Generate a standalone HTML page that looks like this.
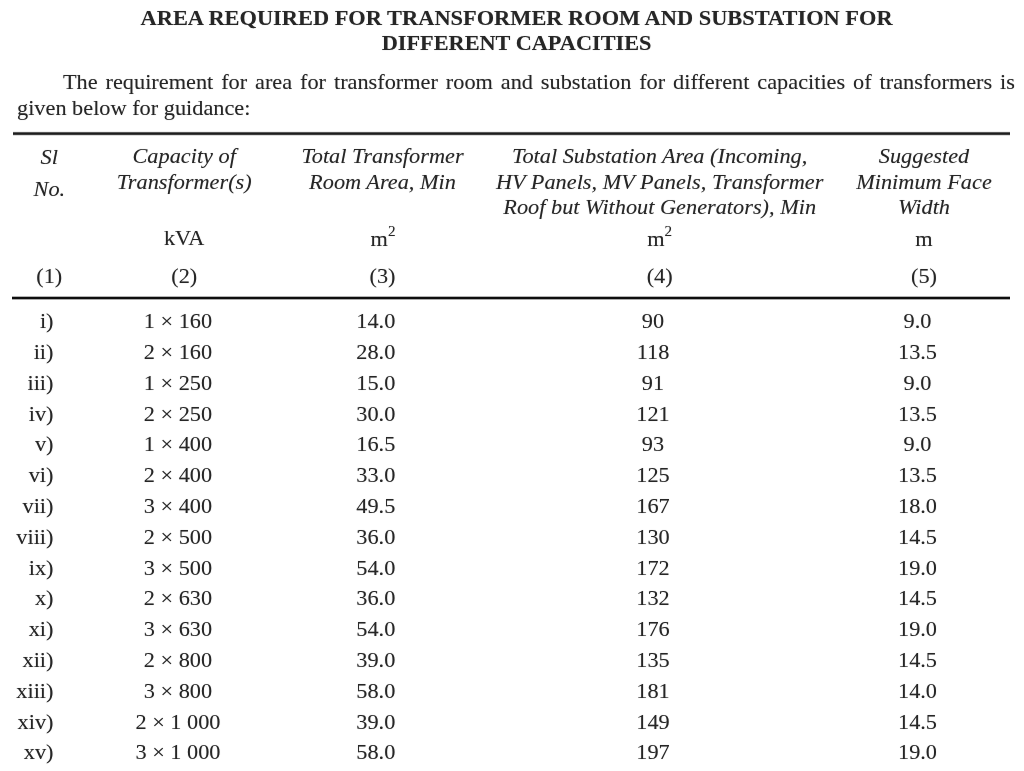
<!DOCTYPE html>
<html><head><meta charset="utf-8"><style>
html,body{margin:0;padding:0;background:#fff;width:1024px;height:771px;overflow:hidden;position:relative}
.t{position:absolute;font-family:"Liberation Serif",serif;color:#262626;white-space:nowrap;text-shadow:0 0 1px rgba(0,0,0,0.3)}
body{filter:grayscale(1)}
.r{position:absolute}
sup{font-size:0.68em;vertical-align:0;position:relative;top:-0.68em;margin-left:0}
</style></head><body>
<div class="t" style="left:16.60px;top:3.54px;width:1000px;text-align:center;font-size:22.4px;line-height:27px;transform:scaleY(0.98);transform-origin:50% 21.06px;font-weight:bold">AREA REQUIRED FOR TRANSFORMER ROOM AND SUBSTATION FOR</div>
<div class="t" style="left:16.60px;top:28.87px;width:1000px;text-align:center;font-size:22.3px;line-height:27px;transform:scaleY(0.98);transform-origin:50% 21.03px;font-weight:bold">DIFFERENT CAPACITIES</div>
<div class="t" style="left:63px;top:68.67px;width:952px;font-size:22.3px;line-height:26px;transform:scaleY(0.96);transform-origin:50% 20.53px;text-align:justify;text-align-last:justify;word-spacing:0">The requirement for area for transformer room and substation for different capacities of transformers is</div>
<div class="t" style="left:17.00px;top:93.97px;width:1100px;text-align:left;font-size:22.3px;line-height:27px;transform:scaleY(0.96);transform-origin:50% 21.03px;">given below for guidance:</div>
<div class="r" style="left:13px;top:131px;width:997px;height:5px;background:linear-gradient(to bottom,#f0f0f0 0,#f0f0f0 1px,#5a5a5a 1px,#5a5a5a 2px,#1e1e1e 2px,#1e1e1e 3px,#3c3c3c 3px,#3c3c3c 4px,#dcdcdc 4px)"></div>
<div class="r" style="left:12px;top:296px;width:998px;height:4px;background:linear-gradient(to bottom,#b4b4b4 0,#b4b4b4 1px,#0e0e0e 1px,#0e0e0e 3px,#aaaaaa 3px)"></div>
<div class="t" style="left:-300.80px;top:142.97px;width:700px;text-align:center;font-size:22.3px;line-height:27px;transform:scaleY(0.96);transform-origin:50% 21.03px;font-style:italic">Sl</div>
<div class="t" style="left:-300.60px;top:174.77px;width:700px;text-align:center;font-size:22.3px;line-height:27px;transform:scaleY(0.96);transform-origin:50% 21.03px;font-style:italic">No.</div>
<div class="t" style="left:-165.80px;top:142.37px;width:700px;text-align:center;font-size:22.3px;line-height:27px;transform:scaleY(0.96);transform-origin:50% 21.03px;font-style:italic">Capacity of</div>
<div class="t" style="left:-165.80px;top:168.07px;width:700px;text-align:center;font-size:22.3px;line-height:27px;transform:scaleY(0.96);transform-origin:50% 21.03px;font-style:italic">Transformer(s)</div>
<div class="t" style="left:-165.80px;top:224.37px;width:700px;text-align:center;font-size:22.3px;line-height:27px;transform:scaleY(0.96);transform-origin:50% 21.03px;">kVA</div>
<div class="t" style="left:-300.80px;top:262.27px;width:700px;text-align:center;font-size:22.3px;line-height:27px;transform:scaleY(0.96);transform-origin:50% 21.03px;">(1)</div>
<div class="t" style="left:-165.80px;top:262.27px;width:700px;text-align:center;font-size:22.3px;line-height:27px;transform:scaleY(0.96);transform-origin:50% 21.03px;">(2)</div>
<div class="t" style="left:32.50px;top:142.27px;width:700px;text-align:center;font-size:22.3px;line-height:27px;transform:scaleY(0.96);transform-origin:50% 21.03px;font-style:italic">Total Transformer</div>
<div class="t" style="left:32.50px;top:167.57px;width:700px;text-align:center;font-size:22.3px;line-height:27px;transform:scaleY(0.96);transform-origin:50% 21.03px;font-style:italic">Room Area, Min</div>
<div class="t" style="left:33.00px;top:224.67px;width:700px;text-align:center;font-size:22.3px;line-height:27px;transform:scaleY(0.96);transform-origin:50% 21.03px;">m<sup>2</sup></div>
<div class="t" style="left:32.50px;top:262.27px;width:700px;text-align:center;font-size:22.3px;line-height:27px;transform:scaleY(0.96);transform-origin:50% 21.03px;">(3)</div>
<div class="t" style="left:309.70px;top:142.07px;width:700px;text-align:center;font-size:22.3px;line-height:27px;transform:scaleY(0.96);transform-origin:50% 21.03px;font-style:italic">Total Substation Area (Incoming,</div>
<div class="t" style="left:309.70px;top:168.17px;width:700px;text-align:center;font-size:22.3px;line-height:27px;transform:scaleY(0.96);transform-origin:50% 21.03px;font-style:italic">HV Panels, MV Panels, Transformer</div>
<div class="t" style="left:309.70px;top:192.77px;width:700px;text-align:center;font-size:22.3px;line-height:27px;transform:scaleY(0.96);transform-origin:50% 21.03px;font-style:italic">Roof but Without Generators), Min</div>
<div class="t" style="left:309.70px;top:224.87px;width:700px;text-align:center;font-size:22.3px;line-height:27px;transform:scaleY(0.96);transform-origin:50% 21.03px;">m<sup>2</sup></div>
<div class="t" style="left:309.70px;top:262.27px;width:700px;text-align:center;font-size:22.3px;line-height:27px;transform:scaleY(0.96);transform-origin:50% 21.03px;">(4)</div>
<div class="t" style="left:574.00px;top:142.27px;width:700px;text-align:center;font-size:22.3px;line-height:27px;transform:scaleY(0.96);transform-origin:50% 21.03px;font-style:italic">Suggested</div>
<div class="t" style="left:574.00px;top:167.77px;width:700px;text-align:center;font-size:22.3px;line-height:27px;transform:scaleY(0.96);transform-origin:50% 21.03px;font-style:italic">Minimum Face</div>
<div class="t" style="left:574.00px;top:192.77px;width:700px;text-align:center;font-size:22.3px;line-height:27px;transform:scaleY(0.96);transform-origin:50% 21.03px;font-style:italic">Width</div>
<div class="t" style="left:574.00px;top:225.17px;width:700px;text-align:center;font-size:22.3px;line-height:27px;transform:scaleY(0.96);transform-origin:50% 21.03px;">m</div>
<div class="t" style="left:574.00px;top:262.27px;width:700px;text-align:center;font-size:22.3px;line-height:27px;transform:scaleY(0.96);transform-origin:50% 21.03px;">(5)</div>
<div class="t" style="left:-146.50px;top:307.17px;width:200px;text-align:right;font-size:22.3px;line-height:27px;transform:scaleY(0.96);transform-origin:50% 21.03px;">i)</div>
<div class="t" style="left:-172.00px;top:307.17px;width:700px;text-align:center;font-size:22.3px;line-height:27px;transform:scaleY(0.96);transform-origin:50% 21.03px;">1 × 160</div>
<div class="t" style="left:25.80px;top:307.17px;width:700px;text-align:center;font-size:22.3px;line-height:27px;transform:scaleY(0.96);transform-origin:50% 21.03px;">14.0</div>
<div class="t" style="left:303.00px;top:307.17px;width:700px;text-align:center;font-size:22.3px;line-height:27px;transform:scaleY(0.96);transform-origin:50% 21.03px;">90</div>
<div class="t" style="left:567.50px;top:307.17px;width:700px;text-align:center;font-size:22.3px;line-height:27px;transform:scaleY(0.96);transform-origin:50% 21.03px;">9.0</div>
<div class="t" style="left:-146.50px;top:337.98px;width:200px;text-align:right;font-size:22.3px;line-height:27px;transform:scaleY(0.96);transform-origin:50% 21.03px;">ii)</div>
<div class="t" style="left:-172.00px;top:337.98px;width:700px;text-align:center;font-size:22.3px;line-height:27px;transform:scaleY(0.96);transform-origin:50% 21.03px;">2 × 160</div>
<div class="t" style="left:25.80px;top:337.98px;width:700px;text-align:center;font-size:22.3px;line-height:27px;transform:scaleY(0.96);transform-origin:50% 21.03px;">28.0</div>
<div class="t" style="left:303.00px;top:337.98px;width:700px;text-align:center;font-size:22.3px;line-height:27px;transform:scaleY(0.96);transform-origin:50% 21.03px;">118</div>
<div class="t" style="left:567.50px;top:337.98px;width:700px;text-align:center;font-size:22.3px;line-height:27px;transform:scaleY(0.96);transform-origin:50% 21.03px;">13.5</div>
<div class="t" style="left:-146.50px;top:368.79px;width:200px;text-align:right;font-size:22.3px;line-height:27px;transform:scaleY(0.96);transform-origin:50% 21.03px;">iii)</div>
<div class="t" style="left:-172.00px;top:368.79px;width:700px;text-align:center;font-size:22.3px;line-height:27px;transform:scaleY(0.96);transform-origin:50% 21.03px;">1 × 250</div>
<div class="t" style="left:25.80px;top:368.79px;width:700px;text-align:center;font-size:22.3px;line-height:27px;transform:scaleY(0.96);transform-origin:50% 21.03px;">15.0</div>
<div class="t" style="left:303.00px;top:368.79px;width:700px;text-align:center;font-size:22.3px;line-height:27px;transform:scaleY(0.96);transform-origin:50% 21.03px;">91</div>
<div class="t" style="left:567.50px;top:368.79px;width:700px;text-align:center;font-size:22.3px;line-height:27px;transform:scaleY(0.96);transform-origin:50% 21.03px;">9.0</div>
<div class="t" style="left:-146.50px;top:399.60px;width:200px;text-align:right;font-size:22.3px;line-height:27px;transform:scaleY(0.96);transform-origin:50% 21.03px;">iv)</div>
<div class="t" style="left:-172.00px;top:399.60px;width:700px;text-align:center;font-size:22.3px;line-height:27px;transform:scaleY(0.96);transform-origin:50% 21.03px;">2 × 250</div>
<div class="t" style="left:25.80px;top:399.60px;width:700px;text-align:center;font-size:22.3px;line-height:27px;transform:scaleY(0.96);transform-origin:50% 21.03px;">30.0</div>
<div class="t" style="left:303.00px;top:399.60px;width:700px;text-align:center;font-size:22.3px;line-height:27px;transform:scaleY(0.96);transform-origin:50% 21.03px;">121</div>
<div class="t" style="left:567.50px;top:399.60px;width:700px;text-align:center;font-size:22.3px;line-height:27px;transform:scaleY(0.96);transform-origin:50% 21.03px;">13.5</div>
<div class="t" style="left:-146.50px;top:430.40px;width:200px;text-align:right;font-size:22.3px;line-height:27px;transform:scaleY(0.96);transform-origin:50% 21.03px;">v)</div>
<div class="t" style="left:-172.00px;top:430.40px;width:700px;text-align:center;font-size:22.3px;line-height:27px;transform:scaleY(0.96);transform-origin:50% 21.03px;">1 × 400</div>
<div class="t" style="left:25.80px;top:430.40px;width:700px;text-align:center;font-size:22.3px;line-height:27px;transform:scaleY(0.96);transform-origin:50% 21.03px;">16.5</div>
<div class="t" style="left:303.00px;top:430.40px;width:700px;text-align:center;font-size:22.3px;line-height:27px;transform:scaleY(0.96);transform-origin:50% 21.03px;">93</div>
<div class="t" style="left:567.50px;top:430.40px;width:700px;text-align:center;font-size:22.3px;line-height:27px;transform:scaleY(0.96);transform-origin:50% 21.03px;">9.0</div>
<div class="t" style="left:-146.50px;top:461.21px;width:200px;text-align:right;font-size:22.3px;line-height:27px;transform:scaleY(0.96);transform-origin:50% 21.03px;">vi)</div>
<div class="t" style="left:-172.00px;top:461.21px;width:700px;text-align:center;font-size:22.3px;line-height:27px;transform:scaleY(0.96);transform-origin:50% 21.03px;">2 × 400</div>
<div class="t" style="left:25.80px;top:461.21px;width:700px;text-align:center;font-size:22.3px;line-height:27px;transform:scaleY(0.96);transform-origin:50% 21.03px;">33.0</div>
<div class="t" style="left:303.00px;top:461.21px;width:700px;text-align:center;font-size:22.3px;line-height:27px;transform:scaleY(0.96);transform-origin:50% 21.03px;">125</div>
<div class="t" style="left:567.50px;top:461.21px;width:700px;text-align:center;font-size:22.3px;line-height:27px;transform:scaleY(0.96);transform-origin:50% 21.03px;">13.5</div>
<div class="t" style="left:-146.50px;top:492.02px;width:200px;text-align:right;font-size:22.3px;line-height:27px;transform:scaleY(0.96);transform-origin:50% 21.03px;">vii)</div>
<div class="t" style="left:-172.00px;top:492.02px;width:700px;text-align:center;font-size:22.3px;line-height:27px;transform:scaleY(0.96);transform-origin:50% 21.03px;">3 × 400</div>
<div class="t" style="left:25.80px;top:492.02px;width:700px;text-align:center;font-size:22.3px;line-height:27px;transform:scaleY(0.96);transform-origin:50% 21.03px;">49.5</div>
<div class="t" style="left:303.00px;top:492.02px;width:700px;text-align:center;font-size:22.3px;line-height:27px;transform:scaleY(0.96);transform-origin:50% 21.03px;">167</div>
<div class="t" style="left:567.50px;top:492.02px;width:700px;text-align:center;font-size:22.3px;line-height:27px;transform:scaleY(0.96);transform-origin:50% 21.03px;">18.0</div>
<div class="t" style="left:-146.50px;top:522.82px;width:200px;text-align:right;font-size:22.3px;line-height:27px;transform:scaleY(0.96);transform-origin:50% 21.03px;">viii)</div>
<div class="t" style="left:-172.00px;top:522.82px;width:700px;text-align:center;font-size:22.3px;line-height:27px;transform:scaleY(0.96);transform-origin:50% 21.03px;">2 × 500</div>
<div class="t" style="left:25.80px;top:522.82px;width:700px;text-align:center;font-size:22.3px;line-height:27px;transform:scaleY(0.96);transform-origin:50% 21.03px;">36.0</div>
<div class="t" style="left:303.00px;top:522.82px;width:700px;text-align:center;font-size:22.3px;line-height:27px;transform:scaleY(0.96);transform-origin:50% 21.03px;">130</div>
<div class="t" style="left:567.50px;top:522.82px;width:700px;text-align:center;font-size:22.3px;line-height:27px;transform:scaleY(0.96);transform-origin:50% 21.03px;">14.5</div>
<div class="t" style="left:-146.50px;top:553.63px;width:200px;text-align:right;font-size:22.3px;line-height:27px;transform:scaleY(0.96);transform-origin:50% 21.03px;">ix)</div>
<div class="t" style="left:-172.00px;top:553.63px;width:700px;text-align:center;font-size:22.3px;line-height:27px;transform:scaleY(0.96);transform-origin:50% 21.03px;">3 × 500</div>
<div class="t" style="left:25.80px;top:553.63px;width:700px;text-align:center;font-size:22.3px;line-height:27px;transform:scaleY(0.96);transform-origin:50% 21.03px;">54.0</div>
<div class="t" style="left:303.00px;top:553.63px;width:700px;text-align:center;font-size:22.3px;line-height:27px;transform:scaleY(0.96);transform-origin:50% 21.03px;">172</div>
<div class="t" style="left:567.50px;top:553.63px;width:700px;text-align:center;font-size:22.3px;line-height:27px;transform:scaleY(0.96);transform-origin:50% 21.03px;">19.0</div>
<div class="t" style="left:-146.50px;top:584.44px;width:200px;text-align:right;font-size:22.3px;line-height:27px;transform:scaleY(0.96);transform-origin:50% 21.03px;">x)</div>
<div class="t" style="left:-172.00px;top:584.44px;width:700px;text-align:center;font-size:22.3px;line-height:27px;transform:scaleY(0.96);transform-origin:50% 21.03px;">2 × 630</div>
<div class="t" style="left:25.80px;top:584.44px;width:700px;text-align:center;font-size:22.3px;line-height:27px;transform:scaleY(0.96);transform-origin:50% 21.03px;">36.0</div>
<div class="t" style="left:303.00px;top:584.44px;width:700px;text-align:center;font-size:22.3px;line-height:27px;transform:scaleY(0.96);transform-origin:50% 21.03px;">132</div>
<div class="t" style="left:567.50px;top:584.44px;width:700px;text-align:center;font-size:22.3px;line-height:27px;transform:scaleY(0.96);transform-origin:50% 21.03px;">14.5</div>
<div class="t" style="left:-146.50px;top:615.25px;width:200px;text-align:right;font-size:22.3px;line-height:27px;transform:scaleY(0.96);transform-origin:50% 21.03px;">xi)</div>
<div class="t" style="left:-172.00px;top:615.25px;width:700px;text-align:center;font-size:22.3px;line-height:27px;transform:scaleY(0.96);transform-origin:50% 21.03px;">3 × 630</div>
<div class="t" style="left:25.80px;top:615.25px;width:700px;text-align:center;font-size:22.3px;line-height:27px;transform:scaleY(0.96);transform-origin:50% 21.03px;">54.0</div>
<div class="t" style="left:303.00px;top:615.25px;width:700px;text-align:center;font-size:22.3px;line-height:27px;transform:scaleY(0.96);transform-origin:50% 21.03px;">176</div>
<div class="t" style="left:567.50px;top:615.25px;width:700px;text-align:center;font-size:22.3px;line-height:27px;transform:scaleY(0.96);transform-origin:50% 21.03px;">19.0</div>
<div class="t" style="left:-146.50px;top:646.05px;width:200px;text-align:right;font-size:22.3px;line-height:27px;transform:scaleY(0.96);transform-origin:50% 21.03px;">xii)</div>
<div class="t" style="left:-172.00px;top:646.05px;width:700px;text-align:center;font-size:22.3px;line-height:27px;transform:scaleY(0.96);transform-origin:50% 21.03px;">2 × 800</div>
<div class="t" style="left:25.80px;top:646.05px;width:700px;text-align:center;font-size:22.3px;line-height:27px;transform:scaleY(0.96);transform-origin:50% 21.03px;">39.0</div>
<div class="t" style="left:303.00px;top:646.05px;width:700px;text-align:center;font-size:22.3px;line-height:27px;transform:scaleY(0.96);transform-origin:50% 21.03px;">135</div>
<div class="t" style="left:567.50px;top:646.05px;width:700px;text-align:center;font-size:22.3px;line-height:27px;transform:scaleY(0.96);transform-origin:50% 21.03px;">14.5</div>
<div class="t" style="left:-146.50px;top:676.86px;width:200px;text-align:right;font-size:22.3px;line-height:27px;transform:scaleY(0.96);transform-origin:50% 21.03px;">xiii)</div>
<div class="t" style="left:-172.00px;top:676.86px;width:700px;text-align:center;font-size:22.3px;line-height:27px;transform:scaleY(0.96);transform-origin:50% 21.03px;">3 × 800</div>
<div class="t" style="left:25.80px;top:676.86px;width:700px;text-align:center;font-size:22.3px;line-height:27px;transform:scaleY(0.96);transform-origin:50% 21.03px;">58.0</div>
<div class="t" style="left:303.00px;top:676.86px;width:700px;text-align:center;font-size:22.3px;line-height:27px;transform:scaleY(0.96);transform-origin:50% 21.03px;">181</div>
<div class="t" style="left:567.50px;top:676.86px;width:700px;text-align:center;font-size:22.3px;line-height:27px;transform:scaleY(0.96);transform-origin:50% 21.03px;">14.0</div>
<div class="t" style="left:-146.50px;top:707.67px;width:200px;text-align:right;font-size:22.3px;line-height:27px;transform:scaleY(0.96);transform-origin:50% 21.03px;">xiv)</div>
<div class="t" style="left:-172.00px;top:707.67px;width:700px;text-align:center;font-size:22.3px;line-height:27px;transform:scaleY(0.96);transform-origin:50% 21.03px;">2 × 1 000</div>
<div class="t" style="left:25.80px;top:707.67px;width:700px;text-align:center;font-size:22.3px;line-height:27px;transform:scaleY(0.96);transform-origin:50% 21.03px;">39.0</div>
<div class="t" style="left:303.00px;top:707.67px;width:700px;text-align:center;font-size:22.3px;line-height:27px;transform:scaleY(0.96);transform-origin:50% 21.03px;">149</div>
<div class="t" style="left:567.50px;top:707.67px;width:700px;text-align:center;font-size:22.3px;line-height:27px;transform:scaleY(0.96);transform-origin:50% 21.03px;">14.5</div>
<div class="t" style="left:-146.50px;top:738.47px;width:200px;text-align:right;font-size:22.3px;line-height:27px;transform:scaleY(0.96);transform-origin:50% 21.03px;">xv)</div>
<div class="t" style="left:-172.00px;top:738.47px;width:700px;text-align:center;font-size:22.3px;line-height:27px;transform:scaleY(0.96);transform-origin:50% 21.03px;">3 × 1 000</div>
<div class="t" style="left:25.80px;top:738.47px;width:700px;text-align:center;font-size:22.3px;line-height:27px;transform:scaleY(0.96);transform-origin:50% 21.03px;">58.0</div>
<div class="t" style="left:303.00px;top:738.47px;width:700px;text-align:center;font-size:22.3px;line-height:27px;transform:scaleY(0.96);transform-origin:50% 21.03px;">197</div>
<div class="t" style="left:567.50px;top:738.47px;width:700px;text-align:center;font-size:22.3px;line-height:27px;transform:scaleY(0.96);transform-origin:50% 21.03px;">19.0</div>
</body></html>
